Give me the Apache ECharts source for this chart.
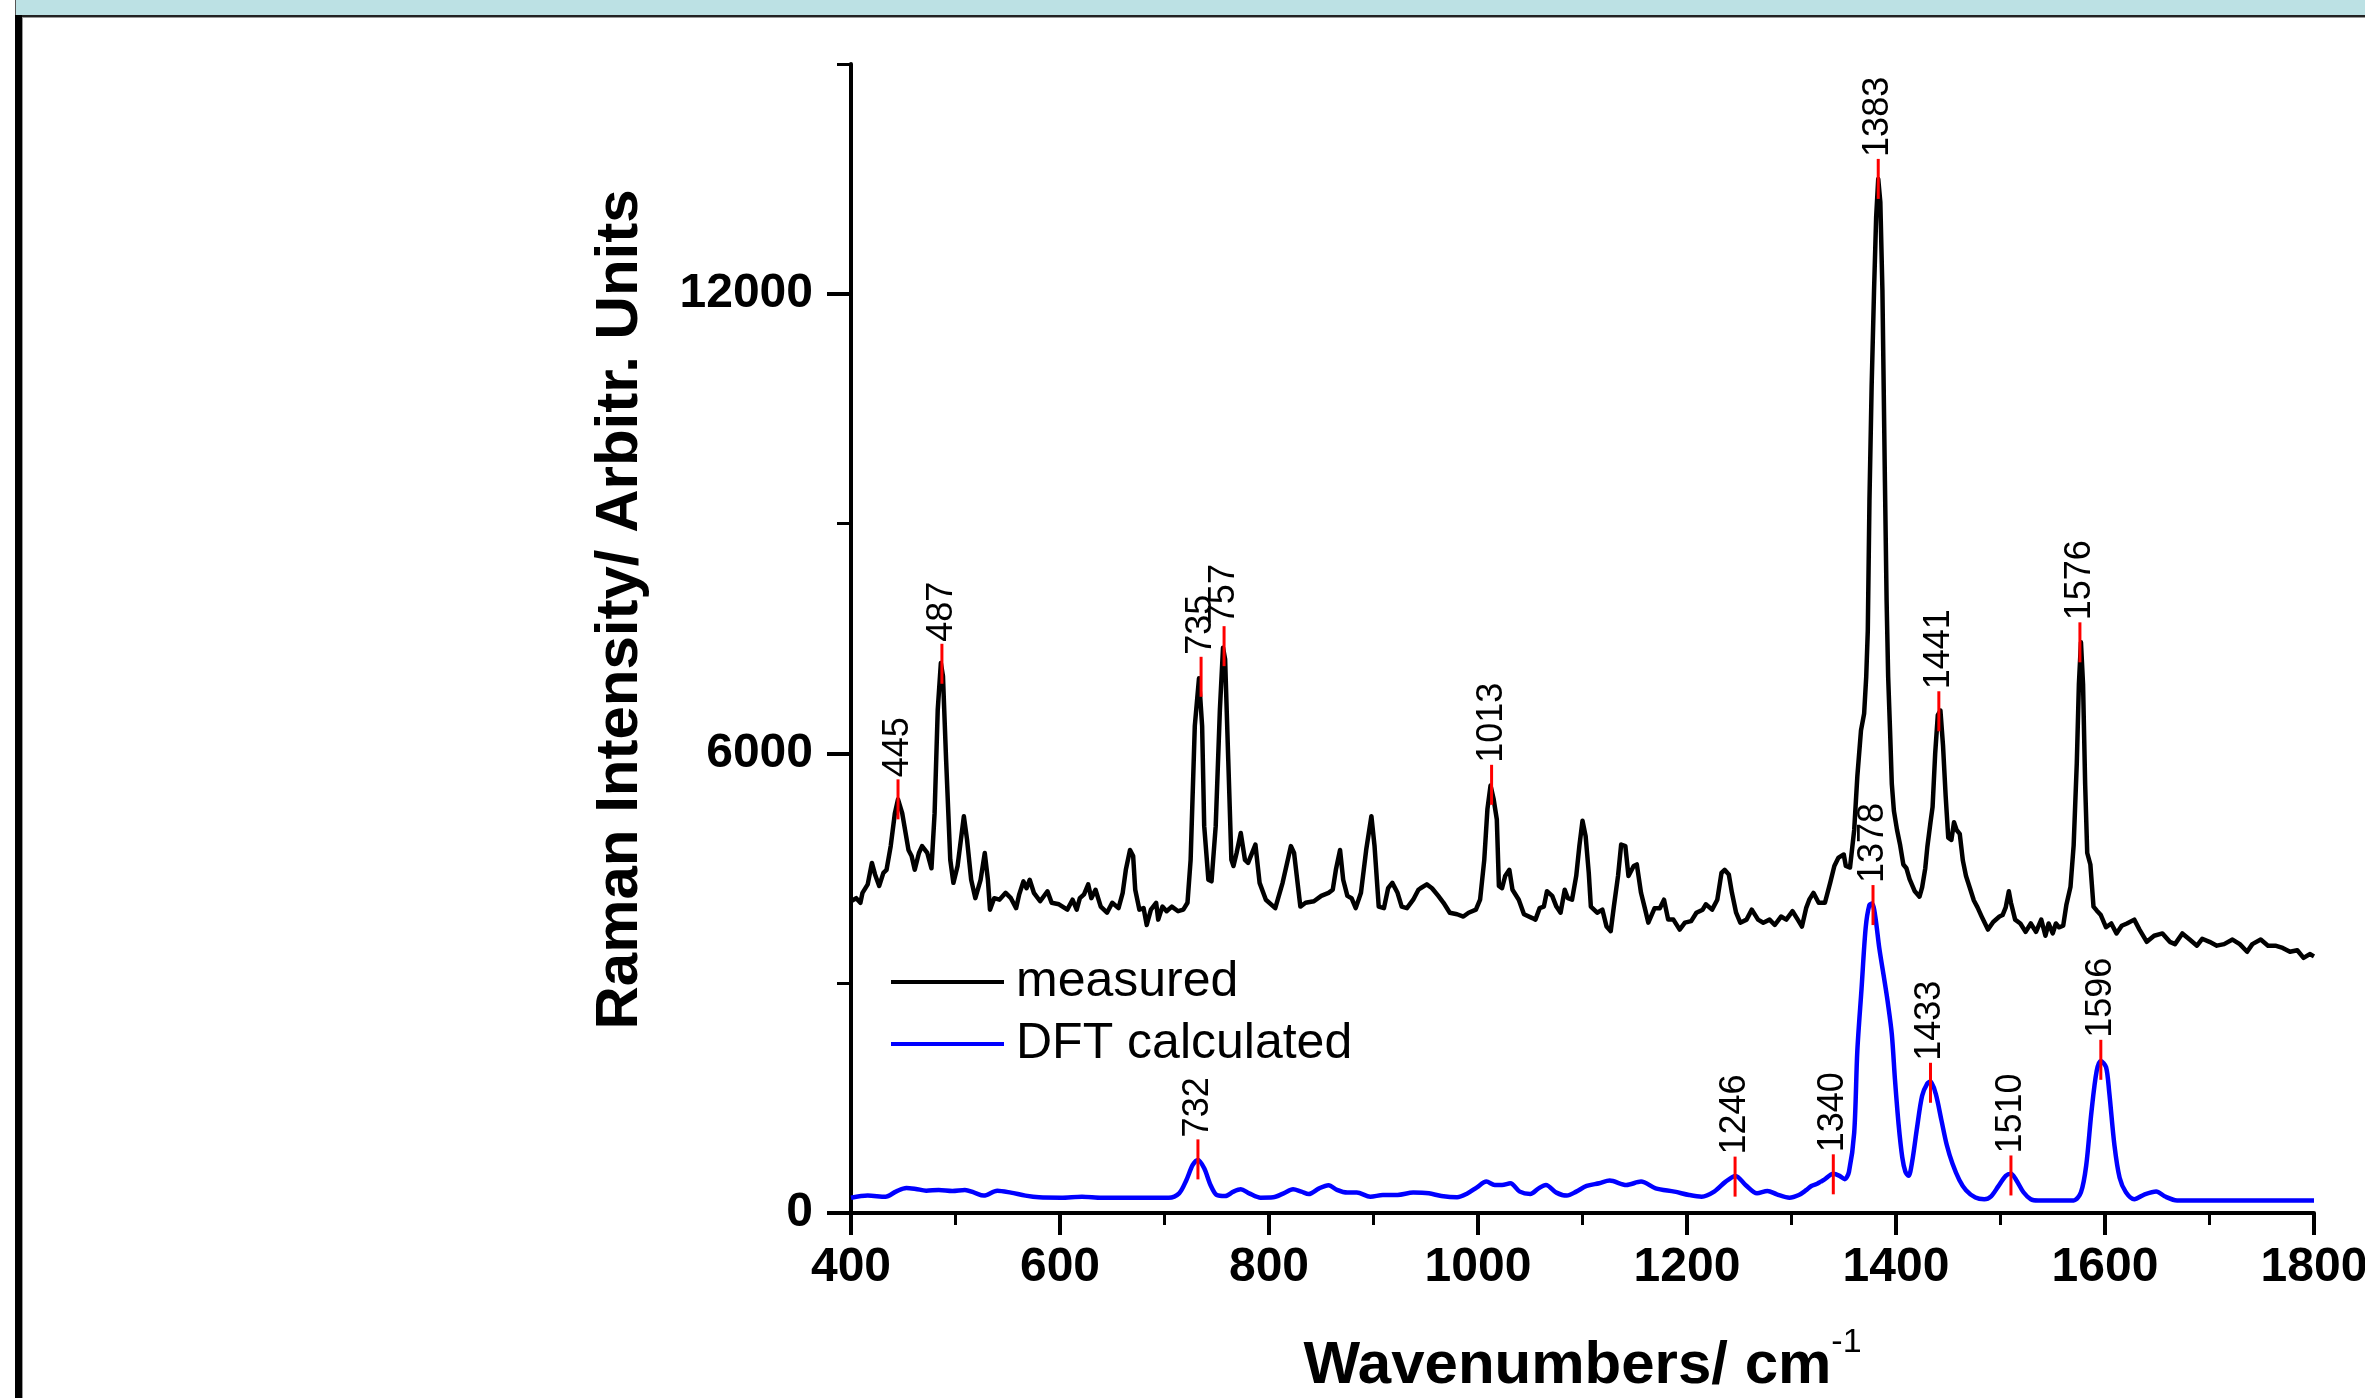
<!DOCTYPE html>
<html><head><meta charset="utf-8">
<script src="https://cdn.jsdelivr.net/npm/echarts@6/dist/echarts.min.js"></script>
<style>html,body{margin:0;padding:0;background:#fff;}#c{width:2365px;height:1398px;}</style>
</head><body><div id="c"></div><script>
// ---- data ----
const measuredX = [400,405,409,411,416,420,423,427,431,434,438,442,445,449,455,458,461,465,468,473,477,480,483,486,488,491,495,498,502,508,511,515,519,524,528,531,533,537,542,548,553,558,561,565,568,571,575,581,588,592,599,607,612,616,619,623,627,630,634,639,645,650,656,660,663,667,670,672,676,680,683,687,692,694,698,702,707,713,718,722,725,729,733,736,738,742,745,749,753,756,758,761,764,766,769,773,777,780,787,791,797,806,813,821,824,830,835,843,850,857,861,864,868,871,875,879,883,888,893,898,901,905,910,914,918,923,927,932,938,943,945,951,956,962,967,973,980,986,991,998,1002,1006,1009,1012,1015,1018,1020,1023,1026,1030,1033,1039,1044,1052,1055,1059,1063,1066,1071,1075,1079,1083,1086,1090,1094,1097,1100,1103,1106,1108,1114,1119,1123,1127,1130,1134,1137,1141,1144,1149,1152,1156,1160,1163,1169,1174,1178,1182,1187,1193,1198,1204,1209,1215,1218,1224,1229,1233,1236,1240,1243,1247,1251,1257,1262,1268,1273,1279,1284,1290,1295,1301,1306,1310,1314,1317,1321,1326,1332,1337,1341,1345,1350,1352,1356,1360,1363,1366.5,1369.5,1371.5,1373,1374.6,1376.7,1379,1381,1383,1385,1387,1389.4,1391,1392.5,1394.3,1396,1398,1401,1404,1407,1410,1413,1418,1422.5,1425,1428,1430,1433,1435,1437.5,1440,1442.5,1445,1447.5,1450,1453,1455.5,1458,1461,1464,1467,1471,1474.5,1478,1482,1488,1493,1499,1502,1505,1508,1510,1514,1519,1524,1529,1534,1539,1543,1546,1550,1553,1556,1560,1563,1567,1570,1573,1575,1577,1579,1581,1583,1586,1589,1592,1596,1601,1606,1611,1616,1621,1628,1633,1640,1647,1655,1662,1667,1674,1681,1688,1693,1700,1707,1714,1722,1729,1736,1741,1749,1756,1763,1770,1777,1784,1790,1796,1800];
const measuredY = [4070,4110,4050,4180,4290,4570,4420,4270,4440,4480,4790,5220,5400,5220,4740,4660,4480,4700,4790,4700,4500,5220,6570,7180,7010,5920,4610,4310,4530,5180,4880,4350,4110,4350,4700,4350,3960,4110,4090,4180,4110,3980,4160,4330,4240,4350,4180,4070,4200,4050,4030,3960,4090,3960,4110,4160,4290,4110,4220,4000,3920,4050,3980,4180,4480,4740,4660,4220,3960,3980,3760,3960,4050,3830,4000,3940,4000,3940,3960,4050,4610,6360,6980,6360,5050,4350,4330,5050,6570,7380,7230,5920,4610,4530,4700,4960,4610,4570,4810,4310,4090,3980,4310,4790,4700,4000,4050,4070,4140,4180,4220,4480,4740,4350,4140,4110,3980,4180,4740,5180,4790,4000,3980,4240,4310,4180,4000,3980,4090,4220,4240,4290,4240,4140,4050,3920,3900,3870,3920,3960,4090,4610,5270,5580,5400,5140,4270,4240,4400,4480,4220,4090,3900,3850,3830,3980,4000,4200,4140,4000,3920,4220,4110,4090,4400,4790,5120,4920,4440,4000,3920,3960,3740,3680,4000,4400,4810,4790,4400,4530,4550,4180,3960,3790,3980,3980,4090,3830,3830,3700,3790,3810,3920,3960,4030,3960,4090,4440,4480,4420,4180,3920,3790,3830,3960,3830,3790,3830,3760,3870,3830,3940,3830,3740,3980,4090,4180,4050,4050,4310,4530,4640,4680,4530,4510,5000,5700,6300,6520,7000,7600,9300,10800,12050,13000,13500,13200,12050,9550,8000,7000,6300,5600,5250,5000,4800,4550,4500,4360,4200,4130,4250,4500,4780,5100,5300,6000,6500,6560,6100,5450,4900,4870,5100,5000,4950,4600,4400,4230,4080,3990,3870,3700,3800,3870,3890,3990,4200,4050,3830,3780,3670,3780,3670,3830,3620,3780,3650,3780,3730,3750,4020,4260,4800,5870,6900,7450,6900,5600,4700,4550,4000,3950,3890,3730,3780,3650,3750,3780,3830,3700,3540,3620,3650,3540,3510,3650,3570,3490,3580,3540,3490,3510,3570,3510,3410,3510,3570,3490,3490,3460,3410,3430,3330,3380,3350];

const dftX = [400,416,433,443,453,462,472,484,497,509,518,527,540,553,567,580,601,621,640,704,714,721,727,732,738,744,750,758,766,773,781,792,804,814,823,831,838,848,857,865,875,884,897,909,923,938,953,965,980,989,999,1008,1016,1023,1031,1040,1050,1058,1065,1075,1085,1094,1104,1116,1126,1142,1156,1170,1188,1202,1214,1226,1237,1246.5,1256,1267,1277,1286,1298,1307,1314,1319,1324,1328,1331,1340,1346,1351,1355,1360,1363,1367,1371,1374.5,1377,1380,1384,1389,1392,1396,1399,1402.5,1406,1409,1412,1415.5,1420,1425,1430,1433,1438,1443.5,1448.6,1454,1460.6,1467,1476,1484.5,1491,1498,1505,1510,1515,1522,1529,1536,1570,1577,1582,1587,1592,1596,1601,1604,1609,1614,1620,1628,1638,1649,1657,1669,1800];
const dftY = [200,227,213,279,327,314,292,301,288,301,266,227,292,266,227,205,200,213,200,200,257,431,627,693,584,366,235,222,279,309,257,200,205,257,309,279,248,322,362,301,266,266,213,235,235,266,257,222,205,248,335,410,366,366,388,279,248,322,366,266,227,279,353,388,423,366,410,322,279,235,213,279,410,484,366,257,288,244,200,235,298,353,378,410,432,512,485,442,539,1048,2119,2923,3726,4021,4040,3887,3459,3030,2762,2334,1744,1155,726,539,485,673,1101,1530,1691,1717,1557,1209,887,646,432,298,201,180,218,351,485,512,432,271,180,164,164,271,619,1316,1851,1985,1905,1584,887,459,271,180,244,282,218,164,164];

const measPeakX = [445,487,735,757,1013,1383,1441,1576];
const measPeakY = [5400,7170,7000,7400,5590,13500,6550,7450];
const dftPeakX = [732,1246,1340,1378,1433,1510,1596];
const dftPeakY = [700,475,505,4020,1700,490,2000];

const yMajorTicks = [0,6000,12000];
const yMinorTicks = [3000,9000,15000];
const seriesNames = ['measured','DFT calculated'];
const xTitle = 'Wavenumbers/ cm';
const xTitleSup = '-1';
const yTitle = 'Raman Intensity/ Arbitr. Units';

// ---- chart ----
const FF = '"Liberation Sans", Arial, sans-serif';
const chart = echarts.init(document.getElementById('c'), null, {renderer:'canvas'});
const measData = measuredX.map((x,i)=>[x, measuredY[i]]);
const dftData = dftX.map((x,i)=>[x, dftY[i]]);
const peakData = measPeakX.map((x,i)=>[x, measPeakY[i]]).concat(dftPeakX.map((x,i)=>[x, dftPeakY[i]]));
const plain = v => String(v);

const gridPos = {left:851, right:51, top:64, bottom:185, containLabel:false, outerBoundsMode:'none'};

chart.setOption({
  backgroundColor:'#ffffff',
  animation:false,
  grid:[Object.assign({}, gridPos), Object.assign({}, gridPos)],
  xAxis:[{
    type:'value', gridIndex:0, min:400, max:1800, interval:200,
    axisLine:{show:true, onZero:false, lineStyle:{color:'#000', width:4}},
    axisTick:{show:true, length:22, lineStyle:{color:'#000', width:4}},
    minorTick:{show:true, splitNumber:2, length:12, lineStyle:{color:'#000', width:3}},
    axisLabel:{margin:31, fontSize:48, fontWeight:'bold', fontFamily:FF, color:'#000', formatter:plain},
    splitLine:{show:false},
    name:'{m|'+xTitle+'}{s|'+xTitleSup+'}', nameLocation:'middle', nameGap:113,
    nameTextStyle:{rich:{
      m:{fontSize:60, fontWeight:'bold', fontFamily:FF, color:'#000', lineHeight:80, verticalAlign:'middle'},
      s:{fontSize:34, fontFamily:FF, color:'#000', lineHeight:34, verticalAlign:'top'}
    }}
  },{
    type:'value', gridIndex:1, min:400, max:1800, show:false
  }],
  yAxis:[{
    type:'value', gridIndex:0, min:0, max:15000, interval:3000,
    axisLine:{show:true, onZero:false, lineStyle:{color:'#000', width:4}},
    axisTick:{show:true, customValues:yMajorTicks, length:24, lineStyle:{color:'#000', width:4}},
    axisLabel:{customValues:yMajorTicks, margin:38, fontSize:48, fontWeight:'bold', fontFamily:FF, color:'#000', formatter:plain},
    splitLine:{show:false},
    name:yTitle, nameLocation:'middle', nameGap:201,
    nameTextStyle:{fontSize:60, fontWeight:'bold', fontFamily:FF, color:'#000', lineHeight:60, padding:[0,0,0,58]}
  },{
    type:'value', gridIndex:1, min:0, max:15000, interval:3000,
    axisLine:{show:false},
    axisTick:{show:true, customValues:yMinorTicks, length:14, lineStyle:{color:'#000', width:3}},
    axisLabel:{show:false},
    splitLine:{show:false}
  }],
  legend:{
    orient:'vertical', left:886, top:952, itemWidth:113, itemHeight:4, itemGap:12, icon:'rect',
    data:seriesNames,
    textStyle:{fontSize:50, fontFamily:FF, color:'#000', lineHeight:50, padding:[0,0,0,7]}
  },
  series:[{
    name:seriesNames[0], type:'line', xAxisIndex:0, yAxisIndex:0, data:measData,
    showSymbol:false, color:'#000000', lineStyle:{color:'#000000', width:4.5, join:'round'}, z:3
  },{
    name:seriesNames[1], type:'line', xAxisIndex:0, yAxisIndex:0, data:dftData,
    showSymbol:false, smooth:0.3, color:'#0000ff', lineStyle:{color:'#0000ff', width:4.5, join:'round'}, z:3
  },{
    type:'custom', xAxisIndex:0, yAxisIndex:0, data:peakData, z:5, clip:false,
    renderItem:function(params, api){
      const x = api.value(0), y = api.value(1);
      const p = api.coord([x, y]);
      return {type:'group', children:[
        {type:'line', shape:{x1:p[0], y1:p[1]-20, x2:p[0], y2:p[1]+20}, style:{stroke:'#ff0000', lineWidth:3}},
        {type:'text', x:p[0], y:p[1]-22, rotation:Math.PI/2,
          style:{text:String(x), fontSize:36, fontFamily:FF, fill:'#000',
                 align:'left', textAlign:'left', verticalAlign:'middle', textVerticalAlign:'middle'}}
      ]};
    }
  }],
  graphic:[
    {type:'rect', silent:true, shape:{x:15, y:0, width:2350, height:15}, style:{fill:'#bce1e4'}},
    {type:'rect', silent:true, shape:{x:15, y:15, width:2350, height:2}, style:{fill:'#222222'}},
    {type:'rect', silent:true, shape:{x:15, y:17, width:2350, height:1}, style:{fill:'#999999'}},
    {type:'rect', silent:true, shape:{x:15, y:0, width:1, height:15}, style:{fill:'#555555'}},
    {type:'rect', silent:true, shape:{x:15, y:15, width:7, height:1383}, style:{fill:'#000000'}},
    {type:'rect', silent:true, shape:{x:22, y:17, width:1, height:1381}, style:{fill:'#999999'}}
  ]
});
</script></body></html>
